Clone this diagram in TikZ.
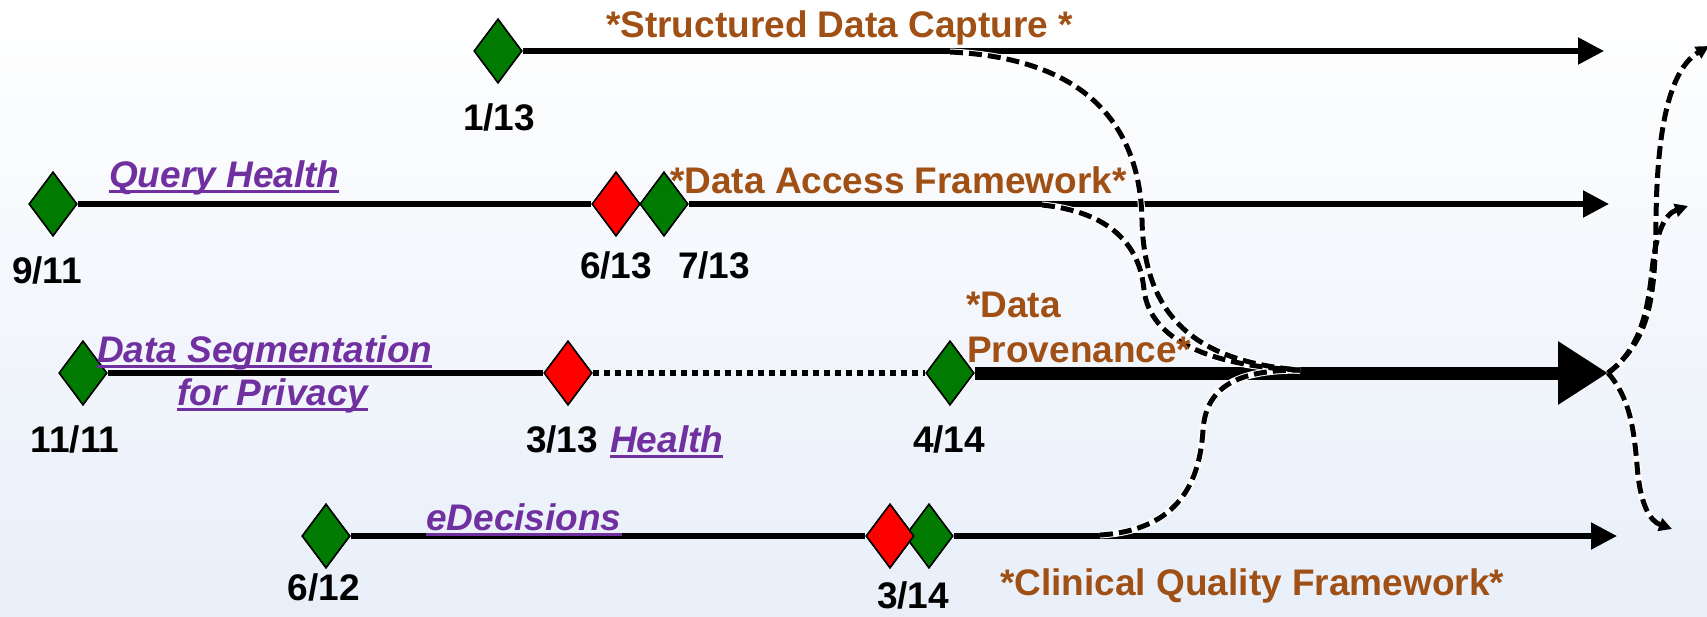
\documentclass[tikz,border=0pt]{standalone}
\usepackage{fontspec}
\setmainfont{Liberation Sans}
\usetikzlibrary{arrows.meta,shapes.geometric}
\definecolor{fwk}{RGB}{160,80,20}
\definecolor{prp}{RGB}{112,48,160}
\definecolor{msgreen}{RGB}{0,122,0}
\definecolor{bgblue}{RGB}{232,239,249}
\newcommand\purul[1]{\setbox0\hbox{#1}\rlap{\color{prp}\rule[-6pt]{\wd0}{2.8pt}}\box0}
\tikzset{
  lbl/.style={font=\fontsize{37}{43}\selectfont\bfseries, inner sep=0pt, anchor=base},
  datelbl/.style={lbl, text=black},
  fwlbl/.style={lbl, text=fwk, anchor=base west},
  projlbl/.style={lbl, text=prp, font=\fontsize{37}{43}\selectfont\bfseries\itshape, anchor=base west},
  ms/.style={diamond, draw=black, line width=1.5pt, inner sep=0pt, minimum width=48pt, minimum height=64pt},
  gms/.style={ms, fill=msgreen},
  rms/.style={ms, fill=red},
  rowline/.style={line width=5.2pt},
  rowarrow/.style={line width=5.2pt, -{Triangle[length=26pt,width=26pt]}},
  thickarrow/.style={line width=13pt, -{Triangle[length=50pt,width=60pt]}},
  dotline/.style={line width=6pt, dash pattern=on 6pt off 5pt},
  dashunder/.style={white, line width=7pt},
  dashcurve/.style={black, line width=5pt, dash pattern=on 13pt off 6pt},
  dasharrow/.style={dashcurve, -{Triangle[length=13pt,width=13pt]}},
}
\begin{document}
\begin{tikzpicture}[x=1pt,y=-1pt]
\useasboundingbox (0,0) rectangle (1707,616);
\shade[top color=white, bottom color=bgblue] (0,0) rectangle (1707,616);

% milestones
\node[gms] (d113) at (498,51) {};
\node[gms] (d911) at (53,204) {};
\node[rms] (d613) at (616,204) {};
\node[gms] (d713) at (664,204) {};
\node[gms] (d1111) at (83,373) {};
\node[rms] (d313) at (568,373) {};
\node[gms] (d414) at (950,373) {};
\node[gms] (d612) at (326,536) {};
\node[gms] (g314) at (929,536) {};
\node[rms] (r314) at (890,536) {};

% arrow tips and curve ends
\coordinate (t1) at (1604,51);
\coordinate (t2) at (1609,204);
\coordinate (t3) at (1608,373);
\coordinate (t4) at (1617,536);
\coordinate (s1) at (950,52);
\coordinate (s2) at (1042,205);
\coordinate (s3) at (1100,535);
\coordinate (m) at (1300,370);
\coordinate (o1) at (1709,46);
\coordinate (o2) at (1688,206);
\coordinate (o3) at (1672,529);

% rows
\draw[rowarrow] (d113.east) -- (t1);
\draw[rowline] (d911.east) -- (d613.west);
\draw[rowarrow] (d713.east) -- (t2);
\draw[rowline] (d1111.east) -- (d313.west);
\draw[dotline] (d313.east) -- (d414.west);
\draw[thickarrow] (d414.east) -- (t3);
\draw[rowline] (d612.east) -- (r314.west);
\draw[rowarrow] (g314.east) -- (t4);

% dashed merge curves
\foreach \st in {dashunder,dashcurve}{
  \draw[\st] (s1) .. controls (1080,58) and (1140,120) .. (1142,220) .. controls (1144,320) and (1200,362) .. (m);
  \draw[\st] (s2) .. controls (1110,212) and (1140,245) .. (1144,290) .. controls (1150,340) and (1210,366) .. (m);
  \draw[\st] (s3) .. controls (1180,530) and (1200,480) .. (1203,430) .. controls (1206,385) and (1240,370) .. (m);
}
% dashed branch curves
\draw[dashunder, shorten >=10pt] (t3) .. controls (1650,340) and (1655,300) .. (1656,220) .. controls (1657,120) and (1672,68) .. (o1);
\draw[dashunder, shorten >=10pt] (t3) .. controls (1640,350) and (1648,310) .. (1652,270) .. controls (1656,232) and (1665,214) .. (o2);
\draw[dashunder, shorten >=10pt] (t3) .. controls (1630,398) and (1634,430) .. (1637,465) .. controls (1640,505) and (1650,521) .. (o3);
\draw[dasharrow] (t3) .. controls (1650,340) and (1655,300) .. (1656,220) .. controls (1657,120) and (1672,68) .. (o1);
\draw[dasharrow] (t3) .. controls (1640,350) and (1648,310) .. (1652,270) .. controls (1656,232) and (1665,214) .. (o2);
\draw[dasharrow] (t3) .. controls (1630,398) and (1634,430) .. (1637,465) .. controls (1640,505) and (1650,521) .. (o3);

% redraw milestones on top
\node[gms] at (d113) {};
\node[gms] at (d911) {};
\node[rms] at (d613) {};
\node[gms] at (d713) {};
\node[gms] at (d1111) {};
\node[rms] at (d313) {};
\node[gms] at (d414) {};
\node[gms] at (d612) {};
\node[gms] at (g314) {};
\node[rms] at (r314) {};

% dates
\node[datelbl] (l113) at (499,130) {1/13};
\node[datelbl] (l911) at (47,283) {9/11};
\node[datelbl] (l613) at (616,278) {6/13};
\node[datelbl] (l713) at (714,278) {7/13};
\node[datelbl] (l1111) at (75,452) {11/11};
\node[datelbl] (l313) at (562,452) {3/13};
\node[datelbl] (l414) at (949,452) {4/14};
\node[datelbl] (l612) at (324,600) {6/12};
\node[datelbl] (l314) at (913,608) {3/14};

% framework labels
\node[fwlbl] (sdc) at (606,37) {*Structured Data Capture *};
\node[fwlbl] (daf) at (670,193) {*Data Access Framework*};
\node[fwlbl] (dp1) at (966,317) {*Data};
\node[fwlbl] (dp2) at (967,362) {Provenance*};
\node[fwlbl] (cqf) at (1000,595) {*Clinical Quality Framework*};

% project labels
\node[projlbl] (qh) at (109,187) {\purul{Query Health}};
\node[projlbl] (ds1) at (97,362) {\purul{Data Segmentation}};
\node[projlbl] (ds2) at (177,405) {\purul{for Privacy}};
\node[projlbl] (hl) at (610,452) {\purul{Health}};
\node[projlbl] (ed) at (426,530) {\purul{eDecisions}};
\end{tikzpicture}
\end{document}
